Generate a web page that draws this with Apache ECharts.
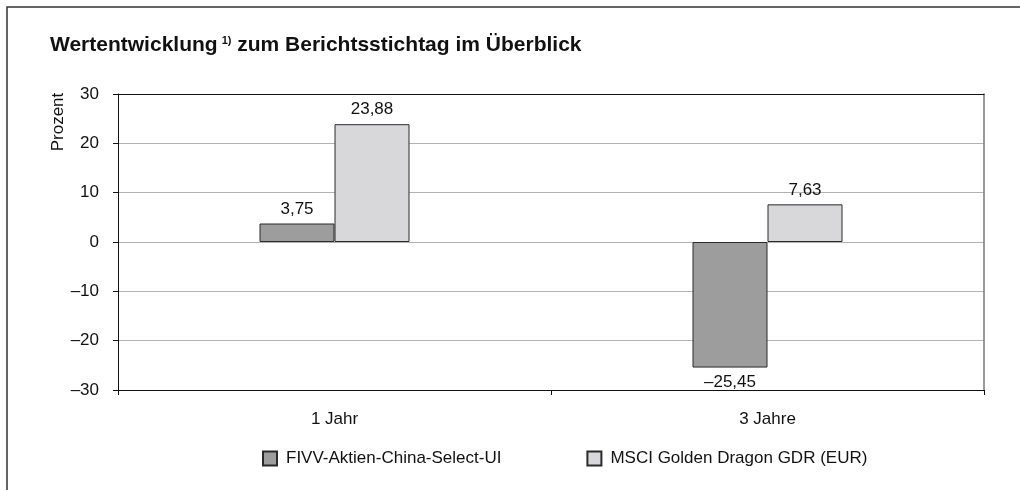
<!DOCTYPE html>
<html>
<head>
<meta charset="utf-8">
<script src="https://cdn.jsdelivr.net/npm/echarts@6/dist/echarts.min.js"></script>
<style>
  html, body { margin: 0; padding: 0; background: #fff; }
  #chart { width: 1020px; height: 490px; }
</style>
</head>
<body>
<div id="chart"></div>
<script>
  // categories and values (in percent)
  const categories = ['1 Jahr', '3 Jahre'];
  const fundName = 'FIVV-Aktien-China-Select-UI';
  const benchName = 'MSCI Golden Dragon GDR (EUR)';
  const fundValues = [3.75, -25.45];
  const benchValues = [23.88, 7.63];

  const dash = s => String(s).replace('-', '\u2013');
  const fmt = v => dash(v.toFixed(2).replace('.', ','));

  // negative bars get their label below
  const toData = arr => arr.map(v => ({
    value: v,
    label: { position: v < 0 ? 'bottom' : 'top' }
  }));

  const chart = echarts.init(document.getElementById('chart'));
  const font = '"Liberation Sans", Arial, Helvetica, sans-serif';

  chart.setOption({
    backgroundColor: '#fff',
    animation: false,
    textStyle: { fontFamily: font },
    title: {
      text: 'Wertentwicklung{sup|1)} zum Berichtsstichtag im Überblick',
      left: 45, top: 30,
      textStyle: {
        fontFamily: font, fontSize: 21, fontWeight: 'bold', color: '#111',
        rich: {
          sup: { fontSize: 11, fontWeight: 'bold', verticalAlign: 'top', padding: [0, 0, 9, 4], color: '#111' }
        }
      }
    },
    grid: { left: 118, right: 36, top: 94, bottom: 100 },
    legend: {
      left: 257, top: 445,
      itemWidth: 14, itemHeight: 14, itemGap: 85,
      icon: 'rect',
      textStyle: { fontFamily: font, fontSize: 17, color: '#111', padding: [0, 0, 0, 4] },
      data: [fundName, benchName]
    },
    xAxis: [
      {
        type: 'category',
        data: categories,
        position: 'bottom',
        axisLine: { onZero: false, lineStyle: { color: '#111', width: 1 } },
        axisTick: { show: true, length: 5, lineStyle: { color: '#111' } },
        axisLabel: { fontSize: 17, color: '#111', margin: 21, fontFamily: font },
        splitLine: { show: false }
      },
      {
        type: 'category',
        data: categories,
        position: 'top',
        axisLine: { show: true, onZero: false, lineStyle: { color: '#111', width: 1 } },
        axisTick: { show: false },
        axisLabel: { show: false }
      }
    ],
    yAxis: [
      {
        type: 'value',
        min: -30, max: 30, interval: 10,
        axisLine: { show: true, onZero: false, lineStyle: { color: '#111', width: 1 } },
        axisTick: { show: true, length: 5, lineStyle: { color: '#111' } },
        axisLabel: { fontSize: 17, color: '#111', margin: 19, fontFamily: font, formatter: v => dash(v) },
        splitLine: { show: true, lineStyle: { color: '#b2b2b2', width: 1 } }
      },
      {
        type: 'value',
        min: -30, max: 30, interval: 10,
        position: 'right',
        axisLine: { show: true, onZero: false, lineStyle: { color: '#777', width: 1.5 } },
        axisTick: { show: false },
        axisLabel: { show: false },
        splitLine: { show: false }
      }
    ],
    series: [
      {
        name: fundName,
        type: 'bar',
        data: toData(fundValues),
        barWidth: 75,
        barGap: '0%',
        itemStyle: { color: '#9d9d9e', borderColor: '#2a2a2a', borderWidth: 1 },
        label: { show: true, fontSize: 17, color: '#111', distance: 6, fontFamily: font, formatter: p => fmt(p.value) }
      },
      {
        name: benchName,
        type: 'bar',
        data: toData(benchValues),
        barWidth: 75,
        barGap: '0%',
        itemStyle: { color: '#d8d8da', borderColor: '#2a2a2a', borderWidth: 1 },
        label: { show: true, fontSize: 17, color: '#111', distance: 6, fontFamily: font, formatter: p => fmt(p.value) }
      }
    ],
    graphic: [
      {
        type: 'polyline',
        shape: { points: [[7, 490], [7, 7], [1020, 7]] },
        style: { stroke: '#333', lineWidth: 1.5, fill: null }
      },
      {
        type: 'text',
        x: 58, y: 122,
        rotation: Math.PI / 2,
        style: {
          text: 'Prozent', fontSize: 17, fontFamily: font, fill: '#111',
          textAlign: 'center', textVerticalAlign: 'middle'
        }
      }
    ]
  });
</script>
</body>
</html>
